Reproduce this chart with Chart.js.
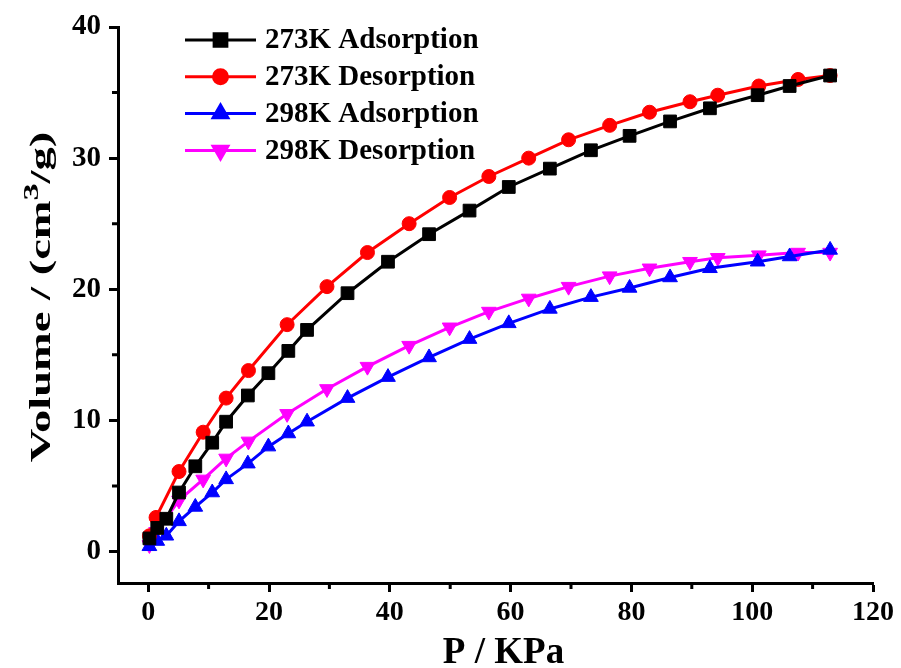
<!DOCTYPE html>
<html>
<head>
<meta charset="utf-8">
<script src="https://cdn.jsdelivr.net/npm/chart.js@4.4.1/dist/chart.umd.min.js"></script>
<style>
  html, body { margin: 0; padding: 0; background: #fff; }
  canvas { display: block; }
</style>
</head>
<body>
<canvas id="iso" width="901" height="668"></canvas>
<script>
// isotherm points, pressure in kPa, uptake in cm3/g
var adsP = [0.2, 1.5, 3.0, 5.1, 7.8, 10.6, 12.9, 16.5, 19.9, 23.2, 26.3, 33.0, 39.7, 46.5, 53.2, 59.7, 66.5, 73.3, 79.7, 86.4, 93.0, 100.9, 106.2, 112.9];
var ads273 = [1.0, 1.8, 2.5, 4.5, 6.5, 8.3, 9.9, 11.9, 13.6, 15.3, 16.9, 19.7, 22.1, 24.2, 26.0, 27.8, 29.2, 30.6, 31.7, 32.8, 33.8, 34.8, 35.5, 36.3];
var ads298 = [0.4, 0.8, 1.2, 2.3, 3.4, 4.5, 5.5, 6.7, 8.0, 9.0, 9.9, 11.7, 13.3, 14.8, 16.2, 17.4, 18.5, 19.4, 20.1, 20.9, 21.6, 22.1, 22.5, 23.0];

var desP = [112.9, 107.6, 101.1, 94.3, 89.7, 83.0, 76.4, 69.6, 63.0, 56.4, 49.9, 43.2, 36.3, 29.6, 23.0, 16.6, 12.9, 9.1, 5.1, 1.3, 0.2];
var des273 = [36.3, 36.0, 35.5, 34.8, 34.3, 33.5, 32.5, 31.4, 30.0, 28.6, 27.0, 25.0, 22.8, 20.2, 17.3, 13.8, 11.7, 9.1, 6.1, 2.6, 1.2];
var des298 = [22.8, 22.8, 22.6, 22.4, 22.1, 21.6, 21.0, 20.2, 19.3, 18.3, 17.1, 15.7, 14.1, 12.4, 10.5, 8.4, 7.1, 5.5, 3.9, 1.5, 0.5];

var xMajor = [0, 20, 40, 60, 80, 100, 120];
var xMinor = [10, 30, 50, 70, 90, 110];
var yMajor = [0, 10, 20, 30, 40];
var yMinor = [5, 15, 25, 35];

var xTitle = 'P / KPa';
var yTitle = ['Volume / (cm', '3', '/g)'];

var serif = '"Liberation Serif", "Times New Roman", serif';

function pts(xs, ys) {
  return xs.map(function (x, i) { return { x: x, y: ys[i] }; });
}

function series(label, xs, ys, color, style, radius, rotation) {
  return {
    label: label,
    data: pts(xs, ys),
    borderColor: color,
    backgroundColor: color,
    borderWidth: 3,
    pointStyle: style,
    pointRadius: radius,
    pointRotation: rotation || 0,
    pointBorderWidth: 1,
    pointHoverRadius: radius,
    tension: 0
  };
}

// short ticks between the labelled ones
var minorTicks = {
  id: 'minorTicks',
  afterDraw: function (chart) {
    var ctx = chart.ctx, a = chart.chartArea;
    var xs = chart.scales.x, ys = chart.scales.y;
    ctx.save();
    ctx.strokeStyle = '#000';
    ctx.lineWidth = 3;
    ctx.beginPath();
    xMinor.forEach(function (v) {
      var px = xs.getPixelForValue(v);
      ctx.moveTo(px, a.bottom);
      ctx.lineTo(px, a.bottom + 6);
    });
    yMinor.forEach(function (v) {
      var py = ys.getPixelForValue(v);
      ctx.moveTo(a.left, py);
      ctx.lineTo(a.left - 6, py);
    });
    ctx.stroke();
    ctx.restore();
  }
};

// axis titles; the y title is stretched along its length and has a raised 3
var axisTitles = {
  id: 'axisTitles',
  afterDraw: function (chart) {
    var ctx = chart.ctx, a = chart.chartArea;
    ctx.save();
    ctx.fillStyle = '#000';
    ctx.textAlign = 'center';
    ctx.textBaseline = 'middle';
    ctx.font = 'bold 37px ' + serif;
    ctx.fillText(xTitle, (a.left + a.right) / 2 + 8, 653);

    ctx.translate(40, 297);
    ctx.rotate(-Math.PI / 2);
    ctx.scale(1.55, 1);
    ctx.textAlign = 'left';
    ctx.textBaseline = 'alphabetic';
    var big = 'bold 30px ' + serif, small = 'bold 22px ' + serif;
    ctx.font = big;
    var w0 = ctx.measureText(yTitle[0]).width;
    var w2 = ctx.measureText(yTitle[2]).width;
    ctx.font = small;
    var w1 = ctx.measureText(yTitle[1]).width;
    var x = -(w0 + w1 + w2) / 2, base = 10;
    ctx.font = big;
    ctx.fillText(yTitle[0], x, base);
    ctx.font = small;
    ctx.fillText(yTitle[1], x + w0, base - 12);
    ctx.font = big;
    ctx.fillText(yTitle[2], x + w0 + w1, base);
    ctx.restore();
  }
};

// legend inside the plot, line sample with marker in the middle
var insideLegend = {
  id: 'insideLegend',
  afterDraw: function (chart) {
    var ctx = chart.ctx, a = chart.chartArea;
    var x0 = a.left + 67, x1 = a.left + 138, tx = a.left + 147;
    var y = a.top + 13, step = 36.8;
    ctx.save();
    ctx.font = 'bold 29px ' + serif;
    ctx.textBaseline = 'middle';
    ctx.textAlign = 'left';
    chart.data.datasets.forEach(function (ds) {
      ctx.strokeStyle = ds.borderColor;
      ctx.lineWidth = 3;
      ctx.beginPath();
      ctx.moveTo(x0, y);
      ctx.lineTo(x1, y);
      ctx.stroke();
      ctx.fillStyle = ds.backgroundColor;
      Chart.helpers.drawPoint(ctx, {
        pointStyle: ds.pointStyle,
        radius: ds.pointRadius,
        rotation: ds.pointRotation,
        borderWidth: 1
      }, (x0 + x1) / 2, y);
      ctx.fillStyle = '#000';
      ctx.fillText(ds.label, tx, y + 1);
      y += step;
    });
    ctx.restore();
  }
};

var ctx = document.getElementById('iso').getContext('2d');
var isoChart = new Chart(ctx, {
  type: 'line',
  data: {
    datasets: [
      series('273K Adsorption', adsP, ads273, '#000000', 'rect', 9),
      series('273K Desorption', desP, des273, '#ff0000', 'circle', 7),
      series('298K Adsorption', adsP, ads298, '#0000ff', 'triangle', 8.5),
      series('298K Desorption', desP, des298, '#ff00ff', 'triangle', 8.5, 180)
    ]
  },
  options: {
    responsive: false,
    animation: false,
    events: [],
    layout: { padding: { top: 27, right: 28, left: 0, bottom: 0 } },
    plugins: {
      legend: { display: false },
      tooltip: { enabled: false }
    },
    scales: {
      x: {
        type: 'linear',
        min: -5,
        max: 120,
        afterBuildTicks: function (s) {
          s.ticks = xMajor.map(function (v) { return { value: v }; });
        },
        afterFit: function (s) { s.height = 85; },
        ticks: {
          color: '#000',
          padding: 4,
          maxRotation: 0,
          font: { family: serif, size: 28, weight: 'bold' }
        },
        grid: {
          drawOnChartArea: false,
          drawTicks: true,
          tickLength: 9,
          tickWidth: 3,
          tickColor: '#000'
        },
        border: { display: true, color: '#000', width: 3 },
        title: { display: false }
      },
      y: {
        type: 'linear',
        min: -2.4,
        max: 40,
        afterBuildTicks: function (s) {
          s.ticks = yMajor.map(function (v) { return { value: v }; });
        },
        afterFit: function (s) { s.width = 118; },
        ticks: {
          color: '#000',
          padding: 8,
          font: { family: serif, size: 29, weight: 'bold' }
        },
        grid: {
          drawOnChartArea: false,
          drawTicks: true,
          tickLength: 9,
          tickWidth: 3,
          tickColor: '#000'
        },
        border: { display: true, color: '#000', width: 3 },
        title: { display: false }
      }
    }
  },
  plugins: [minorTicks, axisTitles, insideLegend]
});
</script>
</body>
</html>
